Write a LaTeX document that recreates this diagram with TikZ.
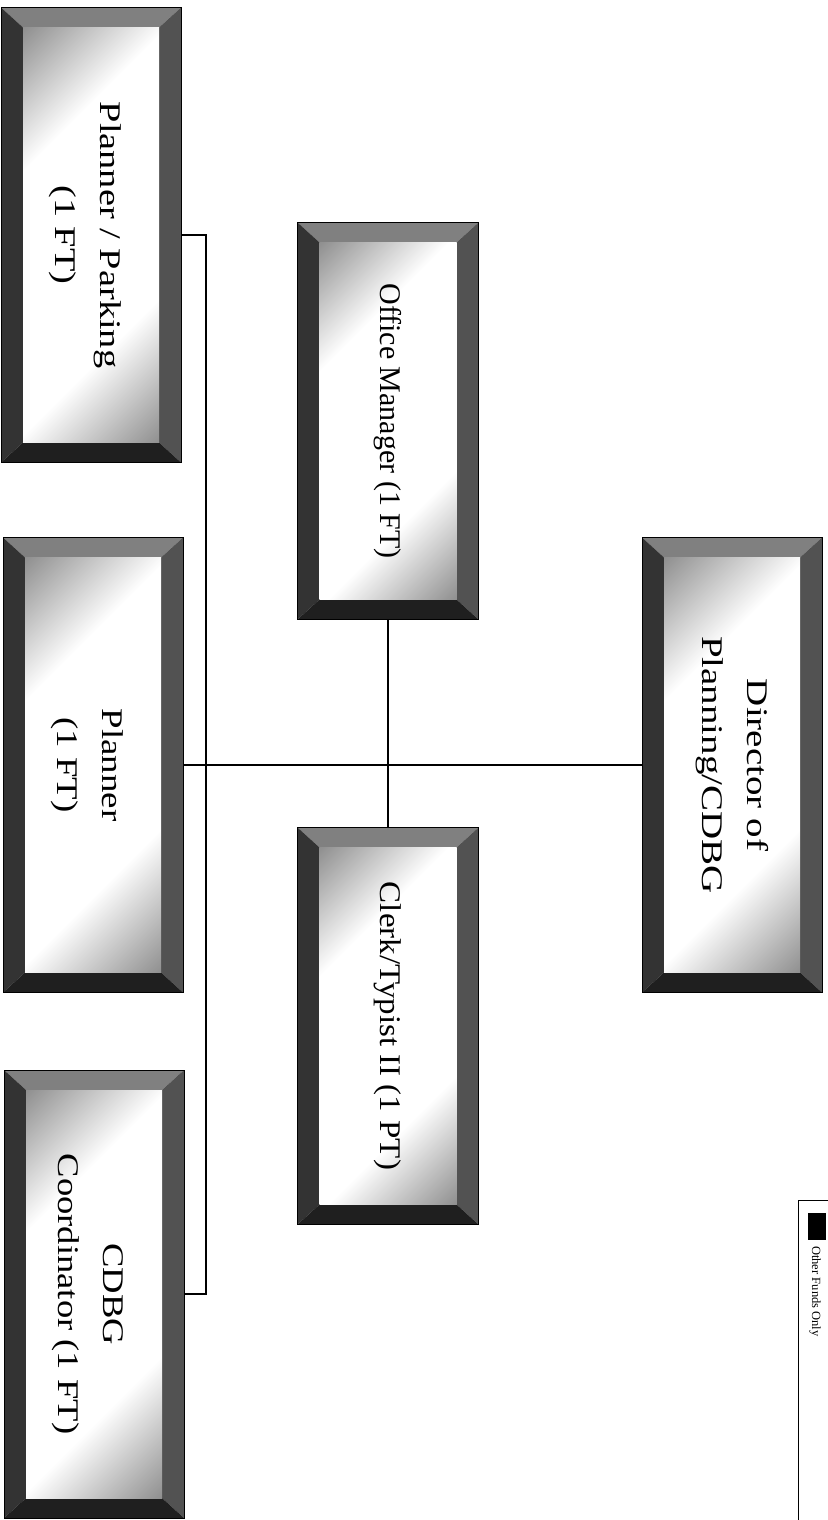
\documentclass[tikz,border=0pt]{standalone}
\usepackage{fontspec}
\setmainfont{Liberation Serif}

\pgfdeclareverticalshading{facegrad}{100bp}{color(0bp)=(black!55); color(14bp)=(black!45); color(33bp)=(white); color(67bp)=(white); color(86bp)=(black!45); color(100bp)=(black!55)}

% bevelled frame round an empty box node
\newcommand{\bevel}[1]{%
\fill[black!50] (#1.north west)--(#1.north east)--([xshift=-22pt,yshift=-20pt]#1.north east)--([xshift=22pt,yshift=-20pt]#1.north west)--cycle;
\fill[black!80] (#1.north west)--([xshift=22pt,yshift=-20pt]#1.north west)--([xshift=22pt,yshift=20pt]#1.south west)--(#1.south west)--cycle;
\fill[black!68] (#1.north east)--([xshift=-22pt,yshift=-20pt]#1.north east)--([xshift=-22pt,yshift=20pt]#1.south east)--(#1.south east)--cycle;
\fill[black!88] (#1.south west)--([xshift=22pt,yshift=20pt]#1.south west)--([xshift=-22pt,yshift=20pt]#1.south east)--(#1.south east)--cycle;
\shade[face] ([xshift=22pt,yshift=-20pt]#1.north west) rectangle ([xshift=-22pt,yshift=20pt]#1.south east);
\draw[line width=0.8pt] (#1.north west) rectangle (#1.south east);
}

\begin{document}
\begin{tikzpicture}[x=1pt,y=-1pt,
tallbox/.style={minimum width=180pt,minimum height=455pt,inner sep=0pt,outer sep=0pt},
shortbox/.style={minimum width=181pt,minimum height=397pt,inner sep=0pt,outer sep=0pt},
lbl/.style={rotate=-90,align=center,inner sep=0pt,font=\fontsize{30}{45}\selectfont},
wire/.style={line width=1.5pt},
face/.style={shading=facegrad,shading angle=45}]
\useasboundingbox (0,0) rectangle (827,1520);

% boxes
\node[tallbox] (ppbox) at (91,235) {};
\node[tallbox] (plbox) at (93,765) {};
\node[tallbox,minimum height=448pt] (cdbox) at (94,1294) {};
\node[tallbox] (dirbox) at (732,765) {};
\node[shortbox] (ombox) at (388,421) {};
\node[shortbox] (ckbox) at (388,1026) {};
\coordinate (bus) at (206,765);

% lines
\draw[wire] (ppbox.east)--(ppbox.east -| bus)--(cdbox.east -| bus)--(cdbox.east);
\draw[wire] (plbox.east)--(dirbox.west);
\draw[wire] (ombox.south)--(ckbox.north);

\bevel{ppbox}
\bevel{plbox}
\bevel{cdbox}
\bevel{dirbox}
\bevel{ombox}
\bevel{ckbox}

% texts
\node[lbl,xscale=1.28] (pptxt) at ([xshift=-6pt]ppbox.center) {Planner / Parking\\(1 FT)};
\node[lbl,xscale=1.23] (pltxt) at ([xshift=-6pt]plbox.center) {Planner\\(1 FT)};
\node[lbl,xscale=1.22] (cdtxt) at ([xshift=-6pt]cdbox.center) {CDBG\\Coordinator (1 FT)};
\node[lbl,xscale=1.3] (dirtxt) at (dirbox) {Director of\\Planning/CDBG};
\node[lbl] (omtxt) at (ombox) {Office Manager (1 FT)};
\node[lbl,xscale=1.1] (cktxt) at (ckbox) {Clerk/Typist II (1 PT)};

% key
\node[draw,line width=0.8pt,anchor=north west,minimum width=60pt,minimum height=400pt] (key) at (798,1200) {};
\node[fill=black,minimum width=18pt,minimum height=27pt,inner sep=0pt] (keysq) at (817,1226) {};
\node[rotate=-90,anchor=west,inner sep=0pt,font=\fontsize{12.5}{14}\selectfont] (keytxt) at (815,1246) {Other Funds Only};
\end{tikzpicture}
\end{document}
